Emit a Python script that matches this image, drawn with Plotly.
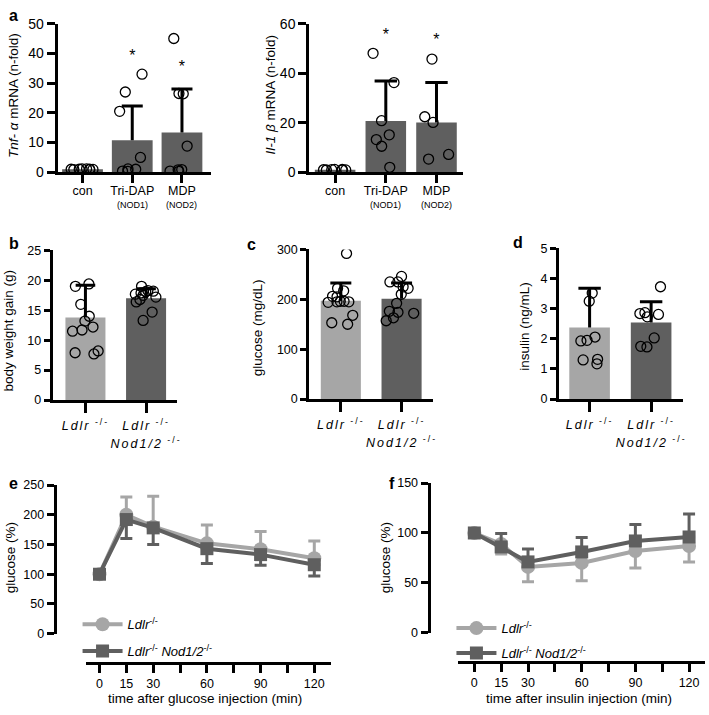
import plotly.graph_objects as go

W, H = 709, 715


def X(px):
    return px / W


def Y(py):
    return 1 - py / H


FONT = "Liberation Sans, Arial, sans-serif"
LIGHT = "#a6a6a6"
DARK = "#5f5f5f"

# ---------------- data ----------------
# panel a (left): Tnf-alpha mRNA
cats_a = ["con", "Tri-DAP", "MDP"]
cat_a_sub = ["", "(NOD1)", "(NOD2)"]
tnf_mean = [1.0, 10.8, 13.4]
tnf_sd = [None, 11.5, 14.6]
tnf_con = [0.9, 1.0, 1.1, 0.95, 1.05, 1.0, 0.85, 1.15]
tnf_tridap = [33.0, 27.0, 20.5, 5.0, 1.0, 0.3, 0.4, 1.1]
tnf_mdp = [45.0, 26.5, 26.4, 8.8, 0.8, 0.3, 0.4, 0.9]
tnf_star = [None, 38.7, 35.1]

# panel a (right): Il-1beta mRNA
il_mean = [1.0, 20.7, 20.1]
il_sd = [None, 16.1, 16.1]
il_con = [0.9, 1.0, 1.1, 0.95, 1.05, 0.85, 1.15]
il_tridap = [48.0, 36.2, 20.8, 15.1, 13.2, 10.5, 2.0]
il_mdp = [45.7, 22.4, 20.1, 7.2, 5.3]
il_star = [None, 55.0, 53.0]

# panels b-d
cats_g = ["Ldlr", "Ldlr Nod1/2"]
cat_g_labels = ["<span style='letter-spacing:2px;font-size:12.5px'><i>Ldlr</i><sup> -/-</sup></span>",
                "<span style='letter-spacing:2px;font-size:12.5px'><i>Ldlr</i><sup> -/-</sup></span><br>"
                "<span style='letter-spacing:2px;font-size:12.5px'><i>Nod1/2</i><sup> -/-</sup></span>"]
bar_colors = [LIGHT, DARK]

bw_mean = [13.8, 17.0]
bw_sd = [5.4, 1.6]
bw_ldlr = [19.4, 19.0, 16.0, 14.0, 13.2, 12.2, 11.7, 11.5, 8.2, 7.9, 7.7]
bw_nod = [19.0, 18.3, 18.2, 18.1, 17.9, 17.7, 17.5, 17.2, 16.8, 16.4, 14.7, 13.3]

glu_mean = [197, 201]
glu_sd = [36, 32]
glu_ldlr = [292, 222, 217, 206, 205, 196, 196, 195, 195, 194, 168, 153, 150]
glu_nod = [246, 235, 235, 225, 222, 210, 192, 176, 174, 172, 163, 157]

ins_mean = [2.38, 2.54]
ins_sd = [1.30, 0.69]
ins_ldlr = [3.52, 3.25, 2.06, 1.95, 1.93, 1.32, 1.30, 1.17]
ins_nod = [3.73, 2.87, 2.84, 2.81, 2.73, 2.03, 1.75, 1.73]

# panels e-f
time_min = [0, 15, 30, 60, 90, 120]
time_labels = [0, 15, 30, 60, 90, 120]

gtt_ldlr = [100, 200, 180, 152, 142, 127]
gtt_ldlr_up = [0, 30, 51, 31, 30, 29]
gtt_nod = [100, 192, 178, 143, 133, 116]
gtt_nod_down = [0, 32, 28, 25, 18, 19]

itt_ldlr = [100, 89, 66, 70, 82, 87]
itt_ldlr_down = [0, 10, 15, 18, 17, 16]
itt_nod = [100, 86, 71, 81, 92, 96]
itt_nod_up = [0, 13.5, 13, 14.5, 16.6, 23]

name_ldlr = "<i>Ldlr</i><sup>-/-</sup>"
name_nod = "<i>Ldlr</i><sup>-/-</sup> <i>Nod1/2</i><sup>-/-</sup>"

# ---------------- figure ----------------
fig = go.Figure()


def axn(n, kind):
    return kind if n == 1 else f"{kind}{n}"


def add_bar_panel(n, cats, means, sds, groups, colors, bar_w, box_w, cap, stars=None, star_size=16):
    xa, ya = axn(n, "x"), axn(n, "y")
    fig.add_trace(go.Bar(
        x=cats, y=means, width=bar_w,
        marker=dict(color=colors, line=dict(width=0)),
        error_y=dict(type="data", symmetric=False,
                     array=[s if s else 0 for s in sds], arrayminus=[0] * len(sds),
                     width=0, thickness=3, color="black"),
        xaxis=xa, yaxis=ya, showlegend=False, hoverinfo="skip"))
    cx = [c for c, s in zip(cats, sds) if s]
    cy = [m + s for m, s in zip(means, sds) if s]
    fig.add_trace(go.Scatter(
        x=cx, y=cy, mode="markers",
        marker=dict(symbol="line-ew", size=cap, color="black", line=dict(color="black", width=3)),
        xaxis=xa, yaxis=ya, showlegend=False, hoverinfo="skip"))
    xs, ys = [], []
    for c, g in zip(cats, groups):
        xs += [c] * len(g)
        ys += g
    fig.add_trace(go.Box(
        x=xs, y=ys, boxpoints="all", jitter=1, pointpos=0, width=box_w,
        fillcolor="rgba(0,0,0,0)", line=dict(color="rgba(0,0,0,0)", width=0),
        whiskerwidth=0,
        marker=dict(symbol="circle-open", size=10, color="black", line=dict(color="black", width=1.3)),
        xaxis=xa, yaxis=ya, showlegend=False, hoverinfo="skip"))
    if stars:
        sx = [c for c, s in zip(cats, stars) if s]
        sy = [s for s in stars if s]
        fig.add_trace(go.Scatter(
            x=sx, y=sy, mode="text", text=["*"] * len(sx),
            textfont=dict(family=FONT, size=star_size, color="black"),
            xaxis=xa, yaxis=ya, showlegend=False, hoverinfo="skip", cliponaxis=False))


add_bar_panel(1, cats_a, tnf_mean, tnf_sd, [tnf_con, tnf_tridap, tnf_mdp], DARK, 0.82, 0.56, 15, tnf_star)
add_bar_panel(2, cats_a, il_mean, il_sd, [il_con, il_tridap, il_mdp], DARK, 0.8, 0.54, 16, il_star)
add_bar_panel(3, cats_g, bw_mean, bw_sd, [bw_ldlr, bw_nod], bar_colors, 0.66, 0.54, 14)
add_bar_panel(4, cats_g, glu_mean, glu_sd, [glu_ldlr, glu_nod], bar_colors, 0.66, 0.52, 15)
add_bar_panel(5, cats_g, ins_mean, ins_sd, [ins_ldlr, ins_nod], bar_colors, 0.66, 0.46, 16)


def line_trace(n, y, err, up, color, symbol, size, name, legend, group):
    xa, ya = axn(n, "x"), axn(n, "y")
    e = [v if v else 0 for v in err]
    return go.Scatter(
        x=time_min, y=y, mode="lines+markers", name=name, legend=legend, legendgroup=group,
        line=dict(color=color, width=4),
        marker=dict(symbol=symbol, size=size, color=color),
        error_y=dict(type="data", symmetric=False,
                     array=e if up else [0] * len(e),
                     arrayminus=[0] * len(e) if up else e,
                     width=6, thickness=3, color=color),
        xaxis=xa, yaxis=ya, hoverinfo="skip", cliponaxis=False)


fig.add_trace(line_trace(6, gtt_ldlr, gtt_ldlr_up, True, LIGHT, "circle", 14, name_ldlr, "legend", "e1"))
fig.add_trace(line_trace(6, gtt_nod, gtt_nod_down, False, DARK, "square", 13, name_nod, "legend", "e2"))
fig.add_trace(line_trace(7, itt_ldlr, itt_ldlr_down, False, LIGHT, "circle", 14, name_ldlr, "legend2", "f1"))
fig.add_trace(line_trace(7, itt_nod, itt_nod_up, True, DARK, "square", 13, name_nod, "legend2", "f2"))


def ax(**kw):
    d = dict(showline=True, linewidth=3, linecolor="black", ticks="outside", tickwidth=3,
             tickcolor="black", showgrid=False, zeroline=False, fixedrange=True,
             tickfont=dict(family=FONT, size=12.5, color="black"))
    d.update(kw)
    return d


TF_A = dict(family=FONT, size=14, color="black")
TF_AX = dict(family=FONT, size=12.5, color="black")
TF_G = dict(family=FONT, size=14, color="black")
minor_t = dict(tick0=0, dtick=15, ticks="outside", ticklen=8, tickwidth=3, tickcolor="black")

layout = dict(
    width=W, height=H, margin=dict(l=0, r=0, t=0, b=0),
    paper_bgcolor="white", plot_bgcolor="rgba(0,0,0,0)",
    font=dict(family=FONT, color="black"),
    barmode="overlay", boxmode="overlay",
    xaxis=ax(domain=[X(58), X(212)], range=[-0.5, 2.58], anchor="y", type="category",
             tickvals=cats_a, ticklen=8, tickfont=TF_AX, tickangle=0, ticklabelstandoff=-3),
    yaxis=ax(domain=[Y(168), Y(16)], range=[0, 50], dtick=10, anchor="x", ticklen=8,
             tickfont=TF_A),
    xaxis2=ax(domain=[X(311), X(466)], range=[-0.51, 2.53], anchor="y2", type="category",
              tickvals=cats_a, ticklen=8, tickfont=TF_AX, tickangle=0, ticklabelstandoff=-3),
    yaxis2=ax(domain=[Y(168), Y(16)], range=[0, 60], dtick=20, anchor="x2", ticklen=8,
              tickfont=TF_A),
    xaxis3=ax(domain=[X(53), X(178)], range=[-0.54, 1.51], anchor="y3", type="category",
              tickvals=cats_g, ticktext=cat_g_labels, ticklen=10, tickfont=TF_G, tickangle=0),
    yaxis3=ax(domain=[Y(401), Y(248)], range=[0, 25], dtick=5, anchor="x3", ticklen=6),
    xaxis4=ax(domain=[X(311), X(435)], range=[-0.52, 1.51], anchor="y4", type="category",
              tickvals=cats_g, ticktext=cat_g_labels, ticklen=10, tickfont=TF_G, tickangle=0),
    yaxis4=ax(domain=[Y(400), Y(247)], range=[0, 300], dtick=100, anchor="x4", ticklen=6),
    xaxis5=ax(domain=[X(562), X(687)], range=[-0.5, 1.52], anchor="y5", type="category",
              tickvals=cats_g, ticktext=cat_g_labels, ticklen=10, tickfont=TF_G, tickangle=0),
    yaxis5=ax(domain=[Y(400), Y(246)], range=[0, 5], dtick=1, anchor="x5", ticklen=6),
    xaxis6=ax(domain=[X(86), X(333)], range=[-7.8, 129.4], anchor="free", position=Y(670),
              tickvals=time_labels, ticklen=8, minor=minor_t),
    yaxis6=ax(domain=[Y(640), Y(488)], range=[0, 250], dtick=50, anchor="free", position=X(55),
              ticklen=7),
    xaxis7=ax(domain=[X(461), 1.0], range=[-8.9, 128.9], anchor="free", position=Y(669),
              tickvals=time_labels, ticklen=8, minor=minor_t),
    yaxis7=ax(domain=[Y(639), Y(486)], range=[0, 150], dtick=50, anchor="free", position=X(431),
              ticklen=7),
    legend=dict(x=X(78), y=Y(615), xanchor="left", yanchor="top", bgcolor="rgba(0,0,0,0)",
                font=dict(family=FONT, size=13, color="black"), traceorder="grouped",
                tracegroupgap=7, itemwidth=40),
    legend2=dict(x=X(454), y=Y(619), xanchor="left", yanchor="top", bgcolor="rgba(0,0,0,0)",
                 font=dict(family=FONT, size=13, color="black"), traceorder="grouped",
                 tracegroupgap=5, itemwidth=40),
)
fig.update_layout(**layout)

annos = []


def label(text, x, y, size=13.5, angle=0):
    annos.append(dict(text=text, x=X(x), y=Y(y), xref="paper", yref="paper", showarrow=False,
                      textangle=angle, font=dict(family=FONT, size=size, color="black"),
                      xanchor="center", yanchor="middle"))


# sub-labels under the category names of panel a, placed on the category axes
for xr in ["x", "x2"]:
    for c, s in zip(cats_a, cat_a_sub):
        if s:
            annos.append(dict(text=s, x=c, xref=xr, y=Y(202), yref="paper", showarrow=False,
                              font=dict(family=FONT, size=9, color="black"),
                              xanchor="center", yanchor="middle"))

label("<i>Tnf- α</i> mRNA (n-fold)", 13, 89, angle=-90)
label("<i>Il-1 β</i> mRNA (n-fold)", 272, 88, angle=-90)
label("body weight gain (g)", 9, 330, angle=-90)
label("glucose (mg/dL)", 259, 327, angle=-90)
label("insulin (ng/mL)", 528, 326, angle=-90)
label("glucose (%)", 10, 562, angle=-90)
label("glucose (%)", 388, 562, angle=-90)
label("time after glucose injection (min)", 206, 706, size=13.5)
label("time after insulin injection (min)", 582, 706, size=13.5)
for t, x, y in [("a", 14, 8), ("b", 14, 241), ("c", 253, 242), ("d", 521, 240),
                ("e", 14, 486), ("f", 394, 486)]:
    label(f"<b>{t}</b>", x, y, size=16)

fig.update_layout(annotations=annos)
fig.write_html("out.html", config={"displayModeBar": False},
               post_script="document.body.style.margin='0';document.body.style.overflow='hidden';")
